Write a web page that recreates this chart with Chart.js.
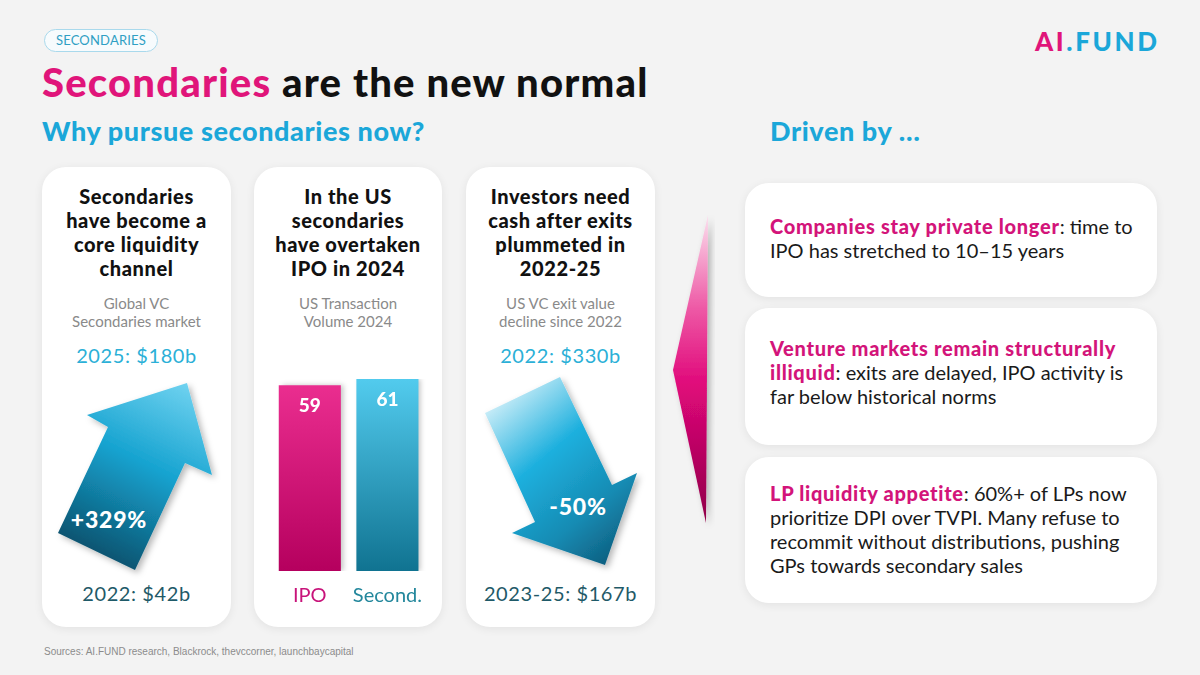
<!DOCTYPE html>
<html>
<head>
<meta charset="utf-8">
<script src="https://cdn.jsdelivr.net/npm/chart.js@4.4.1/dist/chart.umd.min.js"></script>
<style>
  html, body { margin: 0; padding: 0; }
  body {
    width: 1200px; height: 675px; position: relative; overflow: hidden;
    background: #f3f3f3; font-family: Lato, "Noto Sans", sans-serif; color: #111;
  }
  .abs { position: absolute; }
  .pill {
    left: 44px; top: 29px; width: 112px; height: 21px; border: 1px solid #a9d9ec;
    border-radius: 12px; background: #f7fbfd; color: #2f9fc4; font-size: 13px;
    line-height: 21px; text-align: center; letter-spacing: 0.2px;
  }
  .title { left: 42px; top: 58px; font-size: 40px; font-weight: 900; line-height: 1.2; white-space: nowrap; letter-spacing: 1.2px; }
  .pink { color: #e0157a; }
  .blue { color: #1ba7d9; }
  .sub { top: 115px; font-size: 27px; font-weight: 900; line-height: 1.2; white-space: nowrap; color: #1ba7d9; letter-spacing: 0.6px; }
  .logo { left: 1035px; top: 26px; font-size: 26px; font-weight: 900; line-height: 1.2; letter-spacing: 2.6px; }
  .card {
    background: #fff; border-radius: 24px; box-shadow: 0 2px 10px rgba(0,0,0,0.07);
  }
  .ctext { text-align: center; white-space: nowrap; }
  .chead { top: 184px; font-size: 20px; font-weight: 900; line-height: 24px; color: #111; letter-spacing: 0.6px; }
  .cnote { top: 294px; font-size: 15px; line-height: 18px; color: #8a8a8a; }
  .cval { font-size: 20px; line-height: 24px; letter-spacing: 0.6px; }
  .ctop { top: 343px; color: #2bb0d7; }
  .cbot { top: 581px; color: #1f5a68; }
  .pct { font-size: 23px; font-weight: 900; color: #fff; line-height: 1.2; white-space: nowrap; letter-spacing: 0.8px; }
  .rtext { left: 770px; font-size: 20px; line-height: 24px; color: #1a1a1a; white-space: nowrap; letter-spacing: 0; }
  .rtext b { font-weight: 900; color: #d3147a; letter-spacing: 0.7px; }
  .src { left: 44px; top: 646px; font-family: "Liberation Sans", Arial, sans-serif; font-size: 10px; color: #8c8c8c; }
  svg.deco { position: absolute; left: 0; top: 0; pointer-events: none; }
</style>
</head>
<body>
<div class="abs pill">SECONDARIES</div>
<div class="abs title"><span class="pink">Secondaries</span> are the new normal</div>
<div class="abs sub" style="left:42px;">Why pursue secondaries now?</div>
<div class="abs sub" style="left:770px;">Driven by …</div>
<div class="abs logo"><span class="pink">AI</span><span class="blue">.FUND</span></div>

<div class="abs card" style="left:42px; top:167px; width:189px; height:460px;"></div>
<div class="abs card" style="left:254px; top:167px; width:188px; height:460px;"></div>
<div class="abs card" style="left:466px; top:167px; width:189px; height:460px;"></div>

<div class="abs card" style="left:745px; top:183px; width:412px; height:114px;"></div>
<div class="abs card" style="left:745px; top:308px; width:412px; height:137px;"></div>
<div class="abs card" style="left:745px; top:457px; width:412px; height:146px;"></div>

<svg class="deco" width="1200" height="675" viewBox="0 0 1200 675">
  <defs>
    <linearGradient id="gUp" x1="100" y1="565" x2="190" y2="385" gradientUnits="userSpaceOnUse">
      <stop offset="0" stop-color="#0b4d68"/>
      <stop offset="0.55" stop-color="#16a3d0"/>
      <stop offset="1" stop-color="#6fd2f0"/>
    </linearGradient>
    <linearGradient id="gDown" x1="490" y1="410" x2="620" y2="565" gradientUnits="userSpaceOnUse">
      <stop offset="0" stop-color="#c4ebf7"/>
      <stop offset="0.35" stop-color="#1eb0de"/>
      <stop offset="0.7" stop-color="#168bb3"/>
      <stop offset="1" stop-color="#0d5878"/>
    </linearGradient>
    <linearGradient id="gSep" x1="0" y1="215" x2="0" y2="523" gradientUnits="userSpaceOnUse">
      <stop offset="0" stop-color="#fbe0ee"/>
      <stop offset="0.3" stop-color="#ee5aa6"/>
      <stop offset="0.55" stop-color="#e0087a"/>
      <stop offset="1" stop-color="#8f0048"/>
    </linearGradient>
    <filter id="sh" x="-20%" y="-20%" width="140%" height="140%">
      <feDropShadow dx="3" dy="3" stdDeviation="3" flood-color="#000" flood-opacity="0.28"/>
    </filter>
  </defs>
  <polygon points="187,383 212,475 185,463 135,570 58,533 108,427 87,415" fill="url(#gUp)" filter="url(#sh)"/>
  <polygon points="485,413 560,377 612,485 637,473 605,565 512,533 535,522" fill="url(#gDown)" filter="url(#sh)"/>
  <polygon points="708,215 673,370 706,523" fill="url(#gSep)" filter="url(#sh)"/>
</svg>

<div class="abs" style="left:271px; top:379px; width:164px; height:236px;">
  <canvas id="bars"></canvas>
</div>

<div class="abs rtext" style="top:214px;"><b>Companies stay private longer</b>: time to<br>IPO has stretched to 10–15 years</div>
<div class="abs rtext" style="top:336px;"><b>Venture markets remain structurally<br>illiquid</b>: exits are delayed, IPO activity is<br>far below historical norms</div>
<div class="abs rtext" style="top:481px;"><b>LP liquidity appetite</b>: 60%+ of LPs now<br>prioritize DPI over TVPI. Many refuse to<br>recommit without distributions, pushing<br>GPs towards secondary sales</div>

<div class="abs src">Sources: AI.FUND research, Blackrock, thevccorner, launchbaycapital</div>

<script>
// card headings and notes
const cardHeads = [
  ["Secondaries", "have become a", "core liquidity", "channel"],
  ["In the US", "secondaries", "have overtaken", "IPO in 2024"],
  ["Investors need", "cash after exits", "plummeted in", "2022-25"]
];
const cardNotes = [
  ["Global VC", "Secondaries market"],
  ["US Transaction", "Volume 2024"],
  ["US VC exit value", "decline since 2022"]
];

// global VC secondaries market, $b
const marketYears = ["2022", "2025"];
const marketValues = [42, 180];
const marketChange = "+329%";

// US VC exit value, $b
const exitPeriods = ["2022", "2023-25"];
const exitValues = [330, 167];
const exitChange = "-50%";

// US transaction volume 2024
const volumeLabels = ["IPO", "Second."];
const volumeValues = [59, 61];

const cardX = [42, 254, 466];
const cardW = [189, 188, 189];

function put(html, cls, left, width, top) {
  const d = document.createElement("div");
  d.className = "abs ctext " + cls;
  d.style.left = left + "px";
  d.style.width = width + "px";
  if (top !== undefined) d.style.top = top + "px";
  d.innerHTML = html;
  document.body.appendChild(d);
  return d;
}

cardHeads.forEach((lines, i) => put(lines.join("<br>"), "chead", cardX[i], cardW[i]));
cardNotes.forEach((lines, i) => put(lines.join("<br>"), "cnote", cardX[i], cardW[i]));

put(marketYears[1] + ": $" + marketValues[1] + "b", "cval ctop", cardX[0], cardW[0]);
put(marketYears[0] + ": $" + marketValues[0] + "b", "cval cbot", cardX[0], cardW[0]);
put(exitPeriods[0] + ": $" + exitValues[0] + "b", "cval ctop", cardX[2], cardW[2]);
put(exitPeriods[1] + ": $" + exitValues[1] + "b", "cval cbot", cardX[2], cardW[2]);

put(marketChange, "pct", 59, 100, 506);
put(exitChange, "pct", 528, 100, 493);

const barTop = ["#ec2f91", "#52cbee"];
const barBottom = ["#b5005e", "#107391"];
const labelColors = ["#c8137a", "#23879c"];

const barExtras = {
  id: "barExtras",
  beforeDatasetsDraw(chart) {
    const ctx = chart.ctx;
    ctx.save();
    ctx.shadowColor = "rgba(0,0,0,0.22)";
    ctx.shadowBlur = 5;
    ctx.shadowOffsetX = 3;
    ctx.shadowOffsetY = 0;
  },
  afterDatasetsDraw(chart) {
    const ctx = chart.ctx;
    ctx.restore();
    ctx.save();
    ctx.fillStyle = "#fff";
    ctx.font = "900 19px Lato";
    ctx.textAlign = "center";
    ctx.textBaseline = "alphabetic";
    chart.getDatasetMeta(0).data.forEach((bar, i) => {
      ctx.fillText(volumeValues[i], bar.x, bar.y + 27);
    });
    ctx.restore();
  }
};

new Chart("bars", {
  type: "bar",
  data: {
    labels: volumeLabels,
    datasets: [{
      data: volumeValues,
      backgroundColor: (c) => {
        const area = c.chart.chartArea;
        if (!area) return barTop[c.dataIndex];
        const g = c.chart.ctx.createLinearGradient(0, area.top, 0, area.bottom);
        g.addColorStop(0, barTop[c.dataIndex]);
        g.addColorStop(1, barBottom[c.dataIndex]);
        return g;
      },
      borderWidth: 0,
      categoryPercentage: 1,
      barPercentage: 0.8
    }]
  },
  options: {
    responsive: true,
    maintainAspectRatio: false,
    animation: false,
    layout: { padding: 0 },
    plugins: { legend: { display: false }, tooltip: { enabled: false } },
    scales: {
      x: {
        grid: { display: false, drawTicks: false },
        border: { display: false },
        ticks: {
          padding: 13,
          font: { family: "Lato", size: 20 },
          color: (c) => labelColors[c.index]
        },
        afterFit: (s) => { s.height = 44; }
      },
      y: {
        display: false,
        min: 0,
        max: 61
      }
    }
  },
  plugins: [barExtras]
});
</script>
</body>
</html>
